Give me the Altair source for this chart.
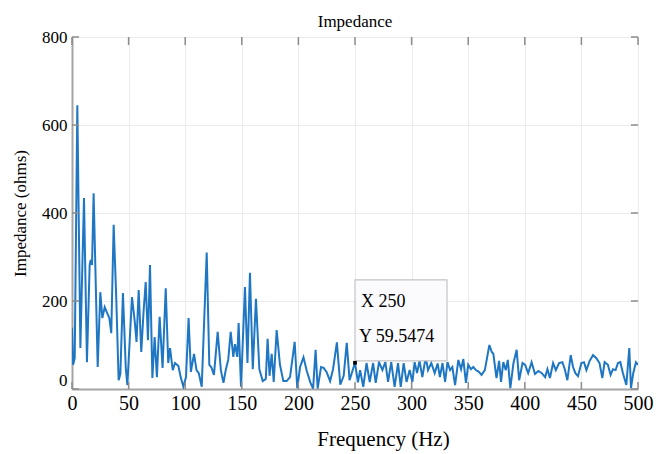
import altair as alt
import pandas as pd

# Spectrum samples (Hz, ohms)
freq = [0, 1, 2.4, 4.7, 7.4, 10.6, 13.2, 15.6, 16.5, 17.7, 19.1, 22.7, 25, 26.8, 28.9, 31, 33, 34.7,
        36.8, 39, 41.2, 42.7, 45, 47.5, 48.9, 53, 55.5, 57, 58.9, 61.2, 63.2, 65.1, 67.1, 68.9, 71, 73,
        75, 77.4, 80, 82.8, 85, 86.6, 89, 91, 94, 96, 98.4, 100.7, 103, 105, 107.8, 110, 112, 114.6,
        119, 121.3, 123, 125.4, 128.7, 131.5, 133.8, 135.8, 138, 140.2, 142.5, 144, 146, 147.2, 149.3,
        152.8, 155, 157.2, 159.7, 162.5, 165.5, 168.5, 171.2, 172.8, 174.5, 176.4, 178.2, 180.8, 183.7,
        186.7, 189.6, 192.6, 196.7, 199, 201.5, 204.5, 207.3, 210.5, 213, 215.2, 217, 220, 222.3, 225,
        228, 230.6, 234, 237, 240, 242.7, 245.2, 250, 252.6, 254.5, 257.3, 260.2, 263, 266, 268.3,
        271.2, 274.2, 276.8, 279.2, 282, 285, 288, 290.4, 293, 295.5, 298.3, 300.7, 302.7, 304.8, 307,
        309.5, 312.5, 314.5, 317.4, 320.4, 323, 325, 327.3, 329.6, 331.7, 334, 336, 338.4, 341.3, 343.7,
        345.7, 348, 350, 352.4, 354.5, 356.8, 359.4, 361.8, 364.7, 368.7, 370.8, 372.2, 375, 377.3, 379,
        381, 383.2, 385, 387.2, 390, 392.8, 395, 398, 400.3, 403, 406, 409, 412, 415, 418, 420, 422.2,
        425, 427.4, 430.3, 433.2, 435.3, 437.6, 440.6, 442.6, 444.7, 447, 450, 452.3, 454.4, 457.3,
        460.3, 463.2, 466, 468.5, 470.5, 473.4, 475.8, 477.9, 480.2, 482.3, 484.4, 486.7, 489.7, 492.3,
        493.8, 495.8, 498.2, 500]
impedance = [139, 55, 70, 645, 93, 434, 61, 282, 293, 282, 445, 50, 220, 161, 186, 173, 161, 127,
             373, 214, 20, 34, 218, 48, 9, 209, 152, 107, 225, 84, 175, 243, 111, 282, 25, 118,
             27, 164, 48, 229, 59, 93, 43, 59, 52, 27, 5, 27, 161, 39, 80, 43, 36, 5,
             310, 55, 50, 32, 130, 43, 14, 43, 66, 130, 73, 102, 73, 150, 5,
             232, 59, 264, 45, 205, 45, 18, 23, 114, 30, 80, 16, 134, 55,
             18, 18, 27, 107, 2, 50, 72, 42, 15, 1, 89, 1, 50, 48, 38,
             18, 45, 106, 10, 30, 105, 20, 59.5474, 15, 43, 5, 59, 16, 59, 14,
             61, 43, 61, 16, 61, 5, 59, 5, 59, 16, 43, 16, 61, 36, 64,
             27, 73, 43, 59, 36, 58, 27, 59, 16, 61, 43, 50, 9, 66, 45,
             68, 14, 55, 45, 50, 43, 39, 32, 43, 100, 84, 80, 25, 64, 16,
             61, 43, 66, 2, 59, 89, 20, 59, 55, 36, 61, 34, 41, 36, 27, 45, 25,
             59, 43, 59, 61, 45, 20, 77, 50, 36, 29, 59, 61, 43, 64,
             77, 70, 59, 25, 61, 55, 32, 45, 43, 59, 61, 36, 9, 93,
             2, 36, 61, 55]

x_ticks = [0, 50, 100, 150, 200, 250, 300, 350, 400, 450, 500]
y_ticks = [0, 200, 400, 600, 800]

tip_x = [250]
tip_y = [59.5474]

SERIF = "Liberation Serif"
TICK_GRAY = "#8c8c8c"

df = pd.DataFrame({"f": freq, "z": impedance})
xs = alt.Scale(domain=[0, 500], nice=False, zero=False)
ys = alt.Scale(domain=[0, 800], nice=False)

x_axis = alt.Axis(values=x_ticks, grid=True, gridColor="#ebebeb", gridWidth=1,
                  domainColor="#a4a4a4", domainWidth=2, ticks=False, labelFlush=False,
                  labelFont=SERIF, labelFontSize=20, labelColor="black", labelPadding=4,
                  title="Frequency (Hz)", titleFont=SERIF, titleFontSize=21,
                  titleFontWeight="normal", titleColor="black", titlePadding=15,
                  titleX=311)
y_axis = alt.Axis(values=y_ticks, grid=True, gridColor="#ebebeb", gridWidth=1,
                  domainColor="#a4a4a4", domainWidth=2, ticks=False, labelFlush=False,
                  labelFont=SERIF, labelFontSize=17, labelColor="black", labelPadding=5,
                  labelOffset={"condition": {"test": "datum.value === 0", "value": -9}, "value": 0},
                  title="Impedance (ohms)", titleFont=SERIF, titleFontSize=17,
                  titleFontWeight="normal", titleColor="black", titlePadding=12)

line = alt.Chart(df).mark_line(color="#1f77c4", strokeWidth=2, clip=True).encode(
    x=alt.X("f:Q", scale=xs, axis=x_axis),
    y=alt.Y("z:Q", scale=ys, axis=y_axis),
)

# inward tick marks (MATLAB style)
xt = pd.DataFrame({"t": x_ticks})
yt = pd.DataFrame({"t": y_ticks})
bottom_ticks = alt.Chart(xt).mark_rule(color=TICK_GRAY, strokeWidth=1.5).encode(
    x=alt.X("t:Q", scale=xs), y=alt.value(352), y2=alt.value(345))
top_ticks = alt.Chart(xt).mark_rule(color=TICK_GRAY, strokeWidth=1.5).encode(
    x=alt.X("t:Q", scale=xs), y=alt.value(0), y2=alt.value(8))
left_ticks = alt.Chart(yt).mark_rule(color=TICK_GRAY, strokeWidth=1.5).encode(
    y=alt.Y("t:Q", scale=ys), x=alt.value(0), x2=alt.value(7))
right_ticks = alt.Chart(yt).mark_rule(color=TICK_GRAY, strokeWidth=1.5).encode(
    y=alt.Y("t:Q", scale=ys), x=alt.value(566), x2=alt.value(559))

tip = pd.DataFrame({"tx": tip_x, "ty": tip_y})
tip_base = alt.Chart(tip).transform_calculate(
    lx="'X ' + datum.tx", ly="'Y ' + datum.ty")

box = tip_base.mark_rect(fill="#fbfbfe", stroke="#c4c4c4", strokeWidth=1.2,
                         xOffset=0, x2Offset=92, yOffset=-2, y2Offset=-83).encode(
    x=alt.X("tx:Q", scale=xs), x2="tx:Q",
    y=alt.Y("ty:Q", scale=ys), y2="ty:Q")
marker = tip_base.mark_point(shape="square", filled=True, color="black", size=14, opacity=1).encode(
    x=alt.X("tx:Q", scale=xs), y=alt.Y("ty:Q", scale=ys))
label_x = tip_base.mark_text(align="left", baseline="middle", font=SERIF, fontSize=18,
                             color="black", dx=6, dy=-61).encode(
    x=alt.X("tx:Q", scale=xs), y=alt.Y("ty:Q", scale=ys), text="lx:N")
label_y = tip_base.mark_text(align="left", baseline="middle", font=SERIF, fontSize=18,
                             color="black", dx=4, dy=-26).encode(
    x=alt.X("tx:Q", scale=xs), y=alt.Y("ty:Q", scale=ys), text="ly:N")

chart = alt.layer(
    line, bottom_ticks, top_ticks, left_ticks, right_ticks, box, marker, label_x, label_y
).properties(
    width=566, height=352,
    title=alt.Title("Impedance", font=SERIF, fontSize=17, fontWeight="normal",
                    color="black", anchor="middle", frame="group", offset=-3),
    autosize=alt.AutoSizeParams(type="none"),
    padding={"left": 64, "top": 29, "right": 22, "bottom": 65},
).configure_view(stroke="#a8a8a8", strokeWidth=1.5).configure(background="white")

chart.save("out.html", embed_options={"renderer": "svg", "actions": False})
